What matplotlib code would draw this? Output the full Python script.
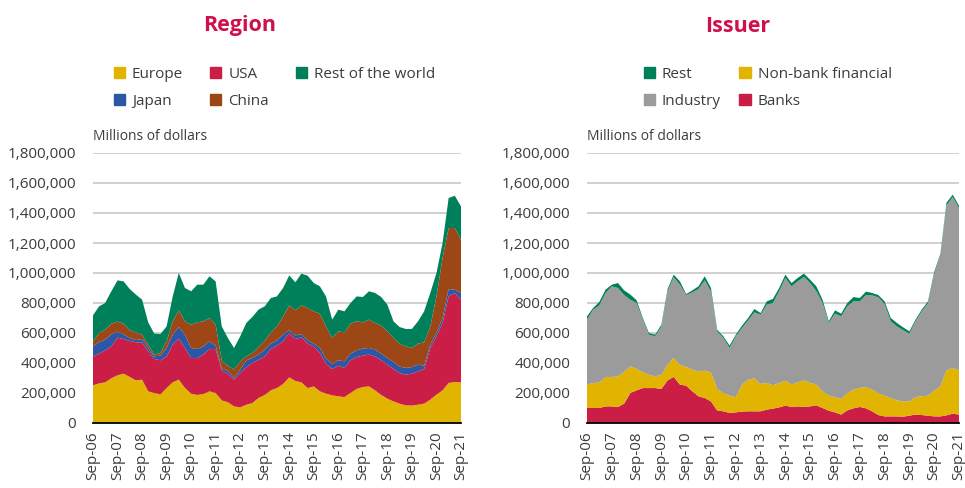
import numpy as np
import pandas as pd
import matplotlib
matplotlib.use("Agg")
import matplotlib.pyplot as plt
from matplotlib.patches import Patch
from matplotlib.ticker import FuncFormatter

plt.rcParams['font.family'] = ['Open Sans', 'DejaVu Sans']

# quarterly points, Sep-06 .. Sep-21, values in thousands of millions of dollars
dates = pd.date_range("2006-09-01", periods=61, freq="3MS")
tick_dates = pd.date_range("2006-09-01", periods=16, freq="12MS")
tick_labels = ["Sep-06", "Sep-07", "Sep-08", "Sep-09", "Sep-10", "Sep-11", "Sep-12", "Sep-13",
               "Sep-14", "Sep-15", "Sep-16", "Sep-17", "Sep-18", "Sep-19", "Sep-20", "Sep-21"]

# Region
europe = [251, 264, 271, 298, 318, 329, 307, 284, 289, 211, 200, 191, 233, 271, 289, 233,
          196, 187, 193, 211, 200, 151, 138, 111, 104, 122, 133, 167, 187, 218, 233, 260,
          304, 280, 271, 233, 244, 211, 196, 184, 178, 173, 200, 227, 240, 244, 218, 187,
          162, 144, 129, 118, 116, 122, 129, 156, 189, 218, 267, 273, 271]
usa = [193, 198, 213, 213, 251, 231, 240, 254, 249, 267, 227, 227, 211, 251, 273, 267,
       237, 246, 263, 282, 293, 200, 191, 178, 229, 251, 267, 255, 257, 275, 283, 284,
       296, 280, 300, 296, 267, 256, 200, 176, 204, 194, 218, 213, 209, 212, 226, 231,
       227, 216, 204, 204, 213, 222, 231, 344, 389, 449, 577, 594, 551]
japan = [67, 78, 72, 80, 40, 31, 20, 15, 22, 22, 17, 31, 56, 67, 78, 89,
         67, 60, 55, 51, 23, 11, 20, 11, 23, 45, 33, 34, 45, 36, 35, 45,
         18, 24, 22, 22, 18, 33, 33, 33, 36, 44, 44, 44, 47, 44, 45, 44,
         44, 47, 43, 45, 44, 45, 22, 22, 22, 33, 49, 22, 45]
china = [33, 60, 66, 71, 67, 71, 51, 51, 29, 22, 12, 18, 44, 89, 111, 89,
         156, 178, 167, 156, 140, 54, 33, 56, 55, 26, 34, 51, 60, 75, 93, 122,
         166, 167, 191, 216, 215, 229, 215, 174, 193, 193, 200, 194, 175, 189, 178, 187,
         178, 160, 153, 144, 127, 140, 156, 122, 244, 400, 407, 411, 355]
rest_world = [174, 178, 178, 216, 275, 282, 275, 252, 233, 149, 140, 126, 100, 166, 249, 222,
              222, 251, 244, 278, 288, 228, 185, 144, 167, 223, 240, 249, 229, 229, 200, 189,
              200, 187, 212, 215, 189, 182, 200, 122, 145, 140, 138, 166, 169, 189, 200, 191,
              178, 111, 111, 116, 127, 149, 206, 223, 156, 100, 200, 215, 222]

# Issuer
banks = [100, 100, 100, 111, 111, 107, 129, 200, 218, 233, 233, 233, 227, 284, 307, 256,
         249, 211, 178, 167, 144, 84, 78, 67, 71, 76, 78, 78, 78, 89, 96, 104,
         116, 107, 111, 107, 111, 118, 100, 82, 71, 56, 84, 98, 107, 98, 78, 53,
         44, 44, 44, 42, 49, 56, 53, 49, 44, 44, 51, 62, 56]
nonbank = [156, 167, 169, 196, 196, 204, 211, 178, 142, 105, 89, 78, 93, 105, 126, 131,
           124, 145, 166, 182, 194, 143, 122, 115, 102, 180, 211, 220, 182, 178, 155, 163,
           166, 149, 160, 177, 156, 138, 111, 100, 102, 104, 116, 124, 126, 142, 144, 147,
           138, 123, 107, 102, 95, 117, 125, 133, 172, 200, 300, 305, 295]
industry = [433, 489, 515, 560, 604, 589, 513, 444, 440, 351, 267, 267, 324, 489, 540, 535,
            480, 515, 549, 602, 540, 384, 367, 318, 405, 377, 395, 440, 462, 522, 549, 611,
            685, 655, 673, 689, 666, 622, 589, 485, 556, 551, 578, 589, 578, 613, 629, 638,
            611, 511, 493, 474, 452, 505, 566, 618, 777, 878, 1100, 1140, 1082]
rest = [22, 11, 23, 22, 11, 33, 31, 34, 18, 11, 11, 11, 12, 15, 16, 22,
        7, 13, 18, 27, 22, 11, 11, 16, 11, 16, 16, 22, 11, 22, 27, 22,
        22, 22, 23, 23, 22, 33, 22, 11, 22, 18, 22, 29, 22, 23, 16, 15,
        18, 22, 23, 20, 15, 11, 12, 11, 14, 7, 18, 15, 16]

YELLOW = "#E0B400"
RED = "#CB1E46"
BLUE = "#2B57A6"
BROWN = "#9E4716"
GREEN = "#00805A"
GREY = "#9B9B9B"
TXT = "#3c3c3c"
TITLE = "#D0104A"

fig = plt.figure(figsize=(9.65, 4.88), dpi=100)
ax1 = fig.add_axes([93 / 965, 65 / 488, 368 / 965, 270 / 488])
ax2 = fig.add_axes([587 / 965, 65 / 488, 372 / 965, 270 / 488])


def style(ax):
    ax.set_xlim(dates[0], dates[-1])
    ax.set_ylim(0, 1800000)
    ax.set_yticks(range(0, 1800001, 200000))
    ax.yaxis.set_major_formatter(FuncFormatter(lambda v, p: "{:,}".format(int(v))))
    ax.set_xticks(tick_dates)
    ax.set_xticklabels(tick_labels, rotation=90, va="top", ha="center")
    ax.tick_params(axis="both", length=0, labelsize=11, colors=TXT)
    ax.tick_params(axis="y", pad=12)
    ax.tick_params(axis="x", pad=6)
    ax.set_axisbelow(True)
    ax.yaxis.grid(True, color="#c4c4c4", lw=1.1)
    for s in ["top", "left", "right"]:
        ax.spines[s].set_visible(False)
    ax.spines["bottom"].set_color("black")
    ax.spines["bottom"].set_linewidth(1.3)
    ax.spines["bottom"].set_zorder(5)
    ax.text(0, 1.035, "Millions of dollars", transform=ax.transAxes, fontsize=10,
            color=TXT, ha="left", va="bottom")


k = 1000
ax1.stackplot(dates, np.array(europe) * k, np.array(usa) * k, np.array(japan) * k,
              np.array(china) * k, np.array(rest_world) * k,
              colors=[YELLOW, RED, BLUE, BROWN, GREEN], lw=0)
style(ax1)

ax2.stackplot(dates, np.array(banks) * k, np.array(nonbank) * k, np.array(industry) * k,
              np.array(rest) * k,
              colors=[RED, YELLOW, GREY, GREEN], lw=0)
style(ax2)

fig.text(240 / 965, 1 - 26 / 488, "Region", fontsize=15.5, fontweight="bold", color=TITLE,
         ha="center", va="center")
fig.text(738 / 965, 1 - 26 / 488, "Issuer", fontsize=15.5, fontweight="bold", color=TITLE,
         ha="center", va="center")

# legend order arranged so rows read as in the original
h1 = [Patch(color=YELLOW), Patch(color=BLUE), Patch(color=RED), Patch(color=BROWN), Patch(color=GREEN)]
l1 = ["Europe", "Japan", "USA", "China", "Rest of the world"]
fig.legend(h1, l1, ncol=3, loc="upper left", bbox_to_anchor=(106 / 965, 1 - 59 / 488),
           frameon=False, fontsize=11, handlelength=0.75, handleheight=0.75,
           handletextpad=0.45, columnspacing=1.75, labelspacing=0.8, borderpad=0,
           labelcolor=TXT)

h2 = [Patch(color=GREEN), Patch(color=GREY), Patch(color=YELLOW), Patch(color=RED)]
l2 = ["Rest", "Industry", "Non-bank financial", "Banks"]
fig.legend(h2, l2, ncol=2, loc="upper left", bbox_to_anchor=(636 / 965, 1 - 59 / 488),
           frameon=False, fontsize=11, handlelength=0.75, handleheight=0.75,
           handletextpad=0.45, columnspacing=1.2, labelspacing=0.8, borderpad=0,
           labelcolor=TXT)

fig.savefig("out.png", dpi=100)
